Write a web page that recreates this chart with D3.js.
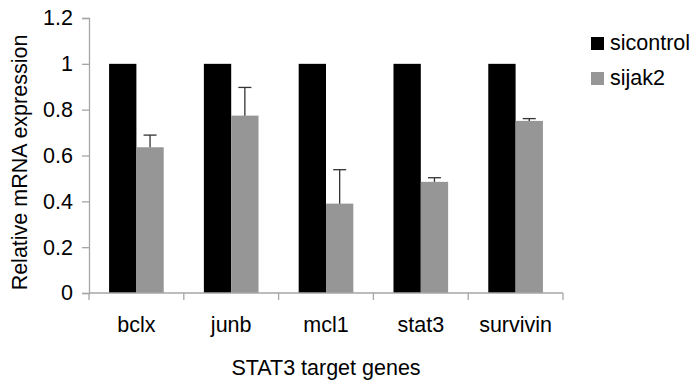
<!DOCTYPE html>
<html>
<head>
<meta charset="utf-8">
<script src="https://cdn.jsdelivr.net/npm/d3@7"></script>
<style>
  html, body { margin: 0; padding: 0; background: #fff; }
  svg { display: block; font-family: Arial, "Liberation Sans", sans-serif; }
</style>
</head>
<body>
<svg id="chart" width="693" height="381"></svg>
<script>
// Relative mRNA expression of STAT3 target genes after knockdown
const genes = ["bclx", "junb", "mcl1", "stat3", "survivin"];
const seriesNames = ["sicontrol", "sijak2"];
const sicontrol = [1, 1, 1, 1, 1];
const sijak2 = [0.636, 0.774, 0.39, 0.485, 0.751];
const sijak2Err = [0.053, 0.123, 0.148, 0.018, 0.01];
const yTicks = [0, 0.2, 0.4, 0.6, 0.8, 1, 1.2];
const colors = ["#000000", "#969696"];

const svg = d3.select("#chart");
const plotLeft = 89, plotRight = 563, plotTop = 18, plotBottom = 293;
const axisColor = "#a6a6a6";
const fontSize = 21.5;

const x0 = d3.scaleBand().domain(genes).range([plotLeft, plotRight]).padding(0);
const x1 = d3.scaleBand().domain(seriesNames).range([0, x0.bandwidth()])
  .paddingInner(0).paddingOuter(0.735);
const y = d3.scaleLinear().domain([0, 1.2]).range([plotBottom, plotTop]);

const values = [sicontrol, sijak2];

// bars
const groups = svg.append("g").selectAll("g")
  .data(genes).join("g")
  .attr("transform", d => `translate(${x0(d)},0)`);

groups.selectAll("rect")
  .data((g, i) => seriesNames.map((s, k) => ({ s, k, v: values[k][i] })))
  .join("rect")
  .attr("x", d => x1(d.s))
  .attr("width", x1.bandwidth())
  .attr("y", d => y(d.v))
  .attr("height", d => y(0) - y(d.v))
  .attr("fill", d => colors[d.k]);

// error bars on sijak2 (upper only)
const errG = svg.append("g").attr("stroke", "#333").attr("stroke-width", 1.3);
genes.forEach((g, i) => {
  const cx = x0(g) + x1("sijak2") + x1.bandwidth() / 2;
  const yv = y(sijak2[i]);
  const ye = y(sijak2[i] + sijak2Err[i]);
  errG.append("line").attr("x1", cx).attr("x2", cx).attr("y1", yv).attr("y2", ye);
  errG.append("line").attr("x1", cx - 6.5).attr("x2", cx + 6.5).attr("y1", ye).attr("y2", ye);
});

// y axis
const yAxis = svg.append("g")
  .attr("transform", `translate(${plotLeft},0)`)
  .call(d3.axisLeft(y).tickValues(yTicks).tickSize(7).tickPadding(9)
    .tickFormat(d => d3.format("~g")(d)));
yAxis.select(".domain").attr("stroke", axisColor).attr("stroke-width", 1.3);
yAxis.selectAll(".tick line").attr("stroke", axisColor).attr("stroke-width", 1.3);
yAxis.selectAll(".tick text").attr("fill", "#000").attr("font-size", fontSize)
  .attr("font-family", "Arial, 'Liberation Sans', sans-serif");

// x axis with tick marks at category boundaries
const xAxisG = svg.append("g").attr("transform", `translate(0,${plotBottom})`);
xAxisG.append("line").attr("x1", plotLeft).attr("x2", plotRight)
  .attr("stroke", axisColor).attr("stroke-width", 1.3);
const boundaries = genes.map(g => x0(g)).concat([plotRight]);
xAxisG.selectAll("line.tk").data(boundaries).join("line").attr("class", "tk")
  .attr("x1", d => d).attr("x2", d => d).attr("y1", 0).attr("y2", 7)
  .attr("stroke", axisColor).attr("stroke-width", 1.3);
xAxisG.selectAll("text").data(genes).join("text")
  .attr("x", d => x0(d) + x0.bandwidth() / 2)
  .attr("y", 39)
  .attr("text-anchor", "middle")
  .attr("font-size", fontSize)
  .text(d => d);

// axis titles
svg.append("text")
  .attr("x", (plotLeft + plotRight) / 2).attr("y", 375)
  .attr("text-anchor", "middle").attr("font-size", fontSize)
  .text("STAT3 target genes");
svg.append("text")
  .attr("transform", `translate(27,${(plotTop + plotBottom) / 2 + 7}) rotate(-90)`)
  .attr("text-anchor", "middle").attr("font-size", fontSize)
  .text("Relative mRNA expression");

// legend
const legend = svg.append("g").attr("transform", "translate(591,37)");
seriesNames.forEach((s, k) => {
  const row = legend.append("g").attr("transform", `translate(0,${k * 35})`);
  row.append("rect").attr("width", 13).attr("height", 13).attr("fill", colors[k]);
  row.append("text").attr("x", 19).attr("y", 13).attr("font-size", fontSize).text(s);
});
</script>
</body>
</html>
